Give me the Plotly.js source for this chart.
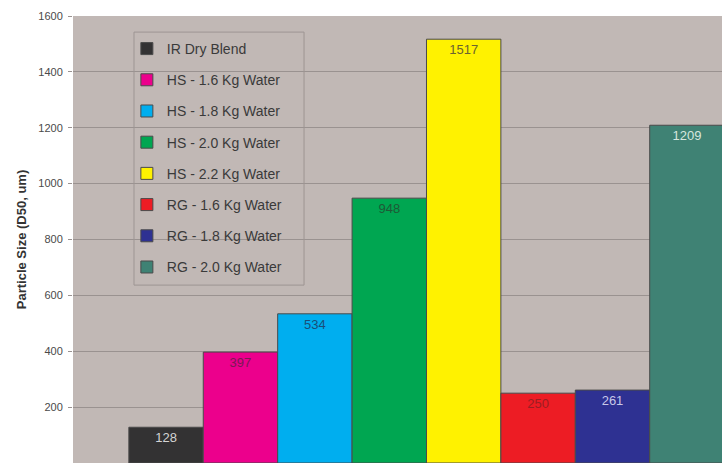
<!DOCTYPE html>
<html>
<head>
<meta charset="utf-8">
<script src="https://cdn.plot.ly/plotly-3.0.1.min.js"></script>
<style>html,body{margin:0;padding:0;overflow:hidden;background:#fff}</style>
</head>
<body>
<div id="chart" style="width:722px;height:463px"></div>
<script>
const seriesNames = ["IR Dry Blend","HS - 1.6 Kg Water","HS - 1.8 Kg Water","HS - 2.0 Kg Water","HS - 2.2 Kg Water","RG - 1.6 Kg Water","RG - 1.8 Kg Water","RG - 2.0 Kg Water"];
const seriesValues = [128, 397, 534, 948, 1517, 250, 261, 1209];
const seriesColors = ["#333233","#ec008c","#00aeef","#00a651","#fff200","#ed1c24","#2e3192","#3f8274"];
const labelColors = ["#d4d4d4","#7a1a55","#1a4e78","#1e5a36","#6b6330","#9a1e22","#c8c8e8","#d6e6de"];
const category = ["D50"];
const yTicks = [0,200,400,600,800,1000,1200,1400,1600];

const traces = seriesNames.map((name, i) => ({
  type: 'bar',
  name: name,
  x: category,
  y: [seriesValues[i]],
  text: [String(seriesValues[i])],
  textposition: 'inside',
  insidetextanchor: 'end',
  textangle: 0,
  textfont: {family: 'Liberation Sans, Arial, sans-serif', size: 13, color: labelColors[i]},
  marker: {color: seriesColors[i], line: {color: '#4a4a4a', width: 1}},
  legendgroup: 'g' + i,
  hoverinfo: 'none'
}));

const layout = {
  width: 722, height: 463,
  margin: {l: 73, r: 0, t: 16, b: 0},
  paper_bgcolor: '#ffffff',
  plot_bgcolor: '#c1b8b5',
  barmode: 'group',
  bargap: 0.158,
  bargroupgap: 0,
  showlegend: true,
  legend: {
    x: 0.083, y: 0.962, xanchor: 'left', yanchor: 'top',
    bgcolor: 'rgba(0,0,0,0)', borderwidth: 0,
    font: {family: 'Liberation Sans, Arial, sans-serif', size: 14, color: '#3a3a3a'},
    tracegroupgap: 10, traceorder: 'grouped', itemwidth: 30
  },
  shapes: [{
    type: 'rect', xref: 'paper', yref: 'paper',
    x0: 0.094, x1: 0.356, y0: 0.398, y1: 0.964,
    line: {color: '#9d9593', width: 1}, fillcolor: 'rgba(0,0,0,0)', layer: 'above'
  }],
  xaxis: {
    range: [-0.5, 0.418], showticklabels: false, showgrid: false, zeroline: false,
    showline: false, fixedrange: true
  },
  yaxis: {
    range: [0, 1600], tickvals: yTicks, ticktext: yTicks.map(String),
    showgrid: true, gridcolor: '#9a9290', gridwidth: 1,
    zeroline: false, ticks: 'outside', ticklen: 4, tickcolor: '#9a9290',
    ticklabelstandoff: 3,
    tickfont: {family: 'Liberation Sans, Arial, sans-serif', size: 11, color: '#4a4a4a'},
    title: {text: 'Particle Size (D50, um)', font: {family: 'Liberation Sans, Arial, sans-serif', size: 13, color: '#333', weight: 'bold'}, standoff: 8},
    showline: false
  },
  font: {family: 'Liberation Sans, Arial, sans-serif'}
};

Plotly.newPlot('chart', traces, layout, {displayModeBar: false, staticPlot: true});
</script>
</body>
</html>
